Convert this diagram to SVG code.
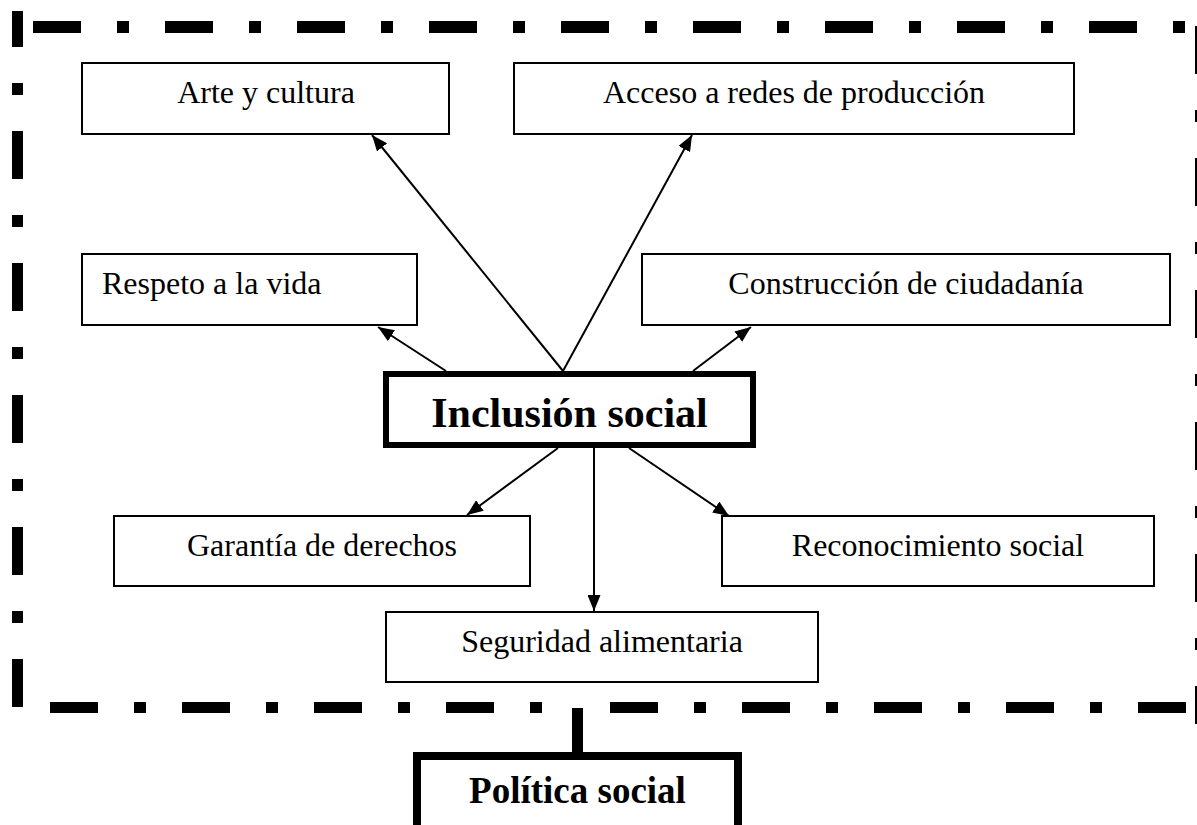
<svg xmlns="http://www.w3.org/2000/svg" width="1197" height="825" viewBox="0 0 1197 825">
<style>
.box{fill:#fff;stroke:#000;stroke-width:2}
.thick{fill:#fff;stroke:#000}
.lbl{font-family:"Liberation Serif","Times New Roman",serif;font-size:32px;fill:#000}
.big{font-family:"Liberation Serif","Times New Roman",serif;font-weight:bold;fill:#000}
.border{stroke:#000;fill:none;stroke-dasharray:48 36 12 36}
.arrow{stroke:#000;stroke-width:2;fill:none;marker-end:url(#ah)}
</style>
<defs>
<marker id="ah" markerUnits="userSpaceOnUse" markerWidth="16" markerHeight="13" refX="16" refY="6.5" orient="auto">
<path d="M0,0 L16,6.5 L0,13 Z" fill="#000"/>
</marker>
</defs>
<rect width="1197" height="825" fill="#fff"/>
<g id="frame">
<line class="border" x1="33" y1="27" x2="1186" y2="27" stroke-width="12"/>
<line class="border" x1="17.5" y1="11" x2="17.5" y2="707" stroke-width="11" stroke-dashoffset="12"/>
<line class="border" x1="1201" y1="26" x2="1201" y2="724" stroke-width="12"/>
<line class="border" x1="50" y1="707.5" x2="542" y2="707.5" stroke-width="11"/>
<line class="border" x1="610" y1="707.5" x2="1186" y2="707.5" stroke-width="11"/>
</g>
<g id="connectors">
<line class="arrow" x1="563" y1="371" x2="372" y2="135"/>
<line class="arrow" x1="563" y1="371" x2="692" y2="135"/>
<line class="arrow" x1="446" y1="371" x2="378" y2="327"/>
<line class="arrow" x1="693" y1="371" x2="751" y2="327"/>
<line class="arrow" x1="558" y1="448" x2="467" y2="515"/>
<line class="arrow" x1="594" y1="445" x2="594" y2="611"/>
<line class="arrow" x1="629" y1="448" x2="729" y2="516"/>
<line x1="577.5" y1="708" x2="577.5" y2="756" stroke="#000" stroke-width="11"/>
</g>
<g id="arte">
<rect class="box" x="82" y="63" width="367" height="71"/>
<text class="lbl" x="266" y="103" text-anchor="middle">Arte y cultura</text>
</g>
<g id="acceso">
<rect class="box" x="514" y="63" width="560" height="71"/>
<text class="lbl" x="794" y="103" text-anchor="middle">Acceso a redes de producción</text>
</g>
<g id="respeto">
<rect class="box" x="82" y="254" width="335" height="71"/>
<text class="lbl" x="102" y="294">Respeto a la vida</text>
</g>
<g id="construccion">
<rect class="box" x="642" y="254" width="528" height="71"/>
<text class="lbl" x="906" y="294" text-anchor="middle">Construcción de ciudadanía</text>
</g>
<g id="inclusion">
<rect class="thick" x="386" y="374" width="367" height="71" stroke-width="6"/>
<text class="big" x="569.5" y="427" font-size="42" text-anchor="middle">Inclusión social</text>
</g>
<g id="garantia">
<rect class="box" x="114" y="516" width="416" height="70"/>
<text class="lbl" x="322" y="556" text-anchor="middle">Garantía de derechos</text>
</g>
<g id="reconocimiento">
<rect class="box" x="722" y="516" width="432" height="70"/>
<text class="lbl" x="938" y="556" text-anchor="middle">Reconocimiento social</text>
</g>
<g id="seguridad">
<rect class="box" x="386" y="612" width="432" height="70"/>
<text class="lbl" x="602" y="652" text-anchor="middle">Seguridad alimentaria</text>
</g>
<g id="politica">
<rect class="thick" x="417" y="756" width="321" height="100" stroke-width="8"/>
<text class="big" x="577.5" y="803" font-size="37" text-anchor="middle">Política social</text>
</g>
</svg>
